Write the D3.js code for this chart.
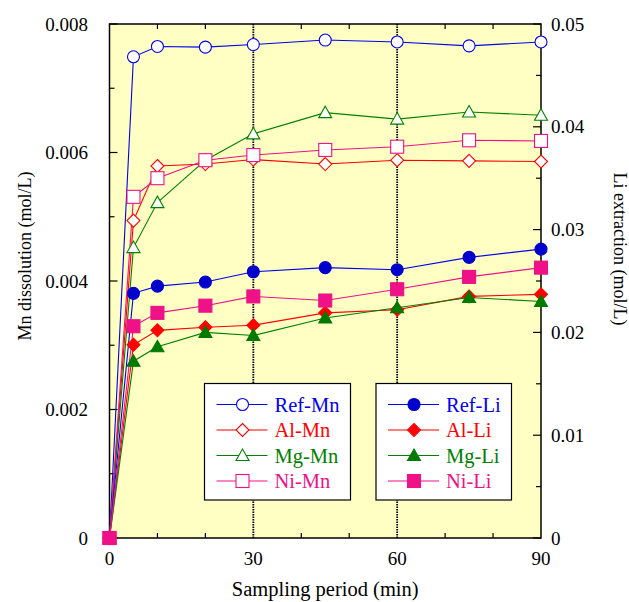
<!DOCTYPE html>
<html>
<head>
<meta charset="utf-8">
<script src="https://cdn.jsdelivr.net/npm/d3@7"></script>
<style>
  body { margin: 0; background: #fff; }
</style>
</head>
<body>
<svg id="chart" width="629" height="602" font-family="'Liberation Serif', 'Times New Roman', Times, 'DejaVu Serif', serif"></svg>
<script>
// Sampling times (min)
const times = [0, 5, 10, 20, 30, 45, 60, 75, 90];

// Mn dissolution (mol/L), left axis
const refMn = [0, 0.00749, 0.00765, 0.00764, 0.00768, 0.00775, 0.00772, 0.00766, 0.00772];
const alMn  = [0, 0.00494, 0.00579, 0.00582, 0.00589, 0.00582, 0.00588, 0.00587, 0.00586];
const mgMn  = [0, 0.00452, 0.00522, 0.00588, 0.00629, 0.00662, 0.00652, 0.00663, 0.00658];
const niMn  = [0, 0.00531, 0.00560, 0.00588, 0.00596, 0.00604, 0.00609, 0.00619, 0.00618];

// Li extraction (mol/L), right axis
const refLi = [0, 0.0238, 0.0245, 0.0249, 0.0259, 0.0263, 0.0261, 0.0273, 0.0281];
const alLi  = [0, 0.0188, 0.0202, 0.0205, 0.0207, 0.0219, 0.0222, 0.0235, 0.0237];
const mgLi  = [0, 0.0172, 0.0186, 0.0200, 0.0197, 0.0214, 0.0224, 0.0234, 0.0230];
const niLi  = [0, 0.0206, 0.0219, 0.0226, 0.0235, 0.0231, 0.0242, 0.0254, 0.0263];

const leftTicks = [0, 0.002, 0.004, 0.006, 0.008];
const rightTicks = [0, 0.01, 0.02, 0.03, 0.04, 0.05];
const xTicks = [0, 30, 60, 90];

const colors = { ref: "#0000ee", al: "#ff0000", mg: "#008000", ni: "#ee1188" };
const fillColors = { ref: "#0000cc", al: "#ff0000", mg: "#007a00", ni: "#ee1188" };

const mnSeries = [
  { name: "Ref-Mn", key: "ref", shape: "circle", values: refMn },
  { name: "Al-Mn", key: "al", shape: "diamond", values: alMn },
  { name: "Mg-Mn", key: "mg", shape: "triangle", values: mgMn },
  { name: "Ni-Mn", key: "ni", shape: "square", values: niMn }
];
const liSeries = [
  { name: "Ref-Li", key: "ref", shape: "circle", values: refLi },
  { name: "Al-Li", key: "al", shape: "diamond", values: alLi },
  { name: "Mg-Li", key: "mg", shape: "triangle", values: mgLi },
  { name: "Ni-Li", key: "ni", shape: "square", values: niLi }
];

// Layout
const plot = { left: 109.5, right: 541, top: 24, bottom: 538 };

const svg = d3.select("#chart");

const x = d3.scaleLinear().domain([0, 90]).range([plot.left, plot.right]);
const yL = d3.scaleLinear().domain([0, 0.008]).range([plot.bottom, plot.top]);
const yR = d3.scaleLinear().domain([0, 0.05]).range([plot.bottom, plot.top]);

// Background
svg.append("rect")
  .attr("x", plot.left).attr("y", plot.top)
  .attr("width", plot.right - plot.left).attr("height", plot.bottom - plot.top)
  .attr("fill", "#ffffc4");

// Vertical dotted gridlines
svg.append("g")
  .selectAll("line")
  .data([30, 60])
  .join("line")
    .attr("x1", d => x(d)).attr("x2", d => x(d))
    .attr("y1", plot.top).attr("y2", plot.bottom)
    .attr("stroke", "#000")
    .attr("stroke-width", 1.8)
    .attr("stroke-dasharray", "1.5,1");

// Inward ticks
const tickG = svg.append("g").attr("stroke", "#000").attr("stroke-width", 1.2);
const xMinor = d3.range(0, 91, 10).filter(d => d % 30 !== 0);
tickG.selectAll("line.xb").data(xMinor).join("line")
  .attr("x1", d => x(d)).attr("x2", d => x(d))
  .attr("y1", plot.bottom).attr("y2", plot.bottom - 5);
tickG.selectAll("line.xt").data(xMinor).join("line")
  .attr("x1", d => x(d)).attr("x2", d => x(d))
  .attr("y1", plot.top).attr("y2", plot.top + 5);

const leftAll = d3.range(0, 9).map(i => i * 0.001);
tickG.selectAll("line.yl").data(leftAll).join("line")
  .attr("x1", plot.left).attr("x2", (d, i) => plot.left + (i % 2 === 0 ? 8 : 5))
  .attr("y1", d => yL(d)).attr("y2", d => yL(d));

const rightAll = d3.range(0, 11).map(i => i * 0.005);
tickG.selectAll("line.yr").data(rightAll).join("line")
  .attr("x1", plot.right).attr("x2", (d, i) => plot.right - (i % 2 === 0 ? 8 : 5))
  .attr("y1", d => yR(d)).attr("y2", d => yR(d));

// Frame
svg.append("rect")
  .attr("x", plot.left).attr("y", plot.top)
  .attr("width", plot.right - plot.left).attr("height", plot.bottom - plot.top)
  .attr("fill", "none").attr("stroke", "#000").attr("stroke-width", 1.5);

// Tick labels
const fmtL = d => d === 0 ? "0" : d.toFixed(3);
const fmtR = d => d === 0 ? "0" : d.toFixed(2);

svg.append("g").selectAll("text").data(leftTicks).join("text")
  .attr("x", 88).attr("y", d => yL(d)).attr("dy", "0.35em")
  .attr("text-anchor", "end").attr("font-size", 19)
  .text(fmtL);

svg.append("g").selectAll("text").data(rightTicks).join("text")
  .attr("x", 551).attr("y", d => yR(d)).attr("dy", "0.35em")
  .attr("text-anchor", "start").attr("font-size", 19)
  .text(fmtR);

svg.append("g").selectAll("text").data(xTicks).join("text")
  .attr("x", d => x(d)).attr("y", 565)
  .attr("text-anchor", "middle").attr("font-size", 19)
  .text(d => d);

// Axis titles
svg.append("text")
  .attr("x", (plot.left + plot.right) / 2).attr("y", 596)
  .attr("text-anchor", "middle").attr("font-size", 20.5)
  .text("Sampling period (min)");

svg.append("text")
  .attr("transform", "translate(31,256)rotate(-90)")
  .attr("text-anchor", "middle").attr("font-size", 18)
  .text("Mn dissolution (mol/L)");

svg.append("text")
  .attr("transform", "translate(614,249)rotate(90)")
  .attr("text-anchor", "middle").attr("font-size", 18)
  .text("Li extraction (mol/L)");

// Marker helper
function drawMarker(g, shape, cx, cy, stroke, fill) {
  let m;
  if (shape === "circle") {
    m = g.append("circle").attr("cx", cx).attr("cy", cy).attr("r", 6);
  } else if (shape === "square") {
    m = g.append("rect").attr("x", cx - 6.5).attr("y", cy - 6.5).attr("width", 13).attr("height", 13);
  } else if (shape === "diamond") {
    m = g.append("path").attr("d", `M${cx},${cy - 6.5}L${cx + 6.5},${cy}L${cx},${cy + 6.5}L${cx - 6.5},${cy}Z`);
  } else {
    m = g.append("path").attr("d", `M${cx},${cy - 6.5}L${cx + 6.5},${cy + 5}L${cx - 6.5},${cy + 5}Z`);
  }
  m.attr("stroke", stroke).attr("stroke-width", 1.1).attr("fill", fill);
}

const line = (yScale) => d3.line().x(d => x(d.t)).y(d => yScale(d.v));

function drawSeries(series, yScale, filled) {
  const g = svg.append("g");
  series.forEach(s => {
    const pts = times.map((t, i) => ({ t: t, v: s.values[i] }));
    g.append("path").datum(pts)
      .attr("d", line(yScale))
      .attr("fill", "none")
      .attr("stroke", colors[s.key])
      .attr("stroke-width", 1.1);
  });
  series.forEach(s => {
    times.forEach((t, i) => {
      drawMarker(g, s.shape, x(t), yScale(s.values[i]),
        filled ? fillColors[s.key] : colors[s.key],
        filled ? fillColors[s.key] : "#fff");
    });
  });
}

drawSeries(mnSeries, yL, false);
drawSeries(liSeries, yR, true);

// Legends
function drawLegend(series, bx, bw, filled) {
  const g = svg.append("g");
  g.append("rect")
    .attr("x", bx).attr("y", 383.5).attr("width", bw).attr("height", 116.5)
    .attr("fill", "#fff").attr("stroke", "#000").attr("stroke-width", 1.2);
  const rows = [404.5, 430, 455.5, 481];
  series.forEach((s, i) => {
    const y = rows[i];
    g.append("line")
      .attr("x1", bx + 12).attr("x2", bx + 63)
      .attr("y1", y).attr("y2", y)
      .attr("stroke", colors[s.key]).attr("stroke-width", 1.1);
    drawMarker(g, s.shape, bx + 38, y,
      filled ? fillColors[s.key] : colors[s.key],
      filled ? fillColors[s.key] : "#fff");
    g.append("text")
      .attr("x", bx + 70).attr("y", y).attr("dy", "0.35em")
      .attr("font-size", 20.5)
      .attr("fill", colors[s.key])
      .text(s.name);
  });
}

drawLegend(mnSeries, 204.5, 146, false);
drawLegend(liSeries, 376, 135.5, true);
</script>
</body>
</html>
